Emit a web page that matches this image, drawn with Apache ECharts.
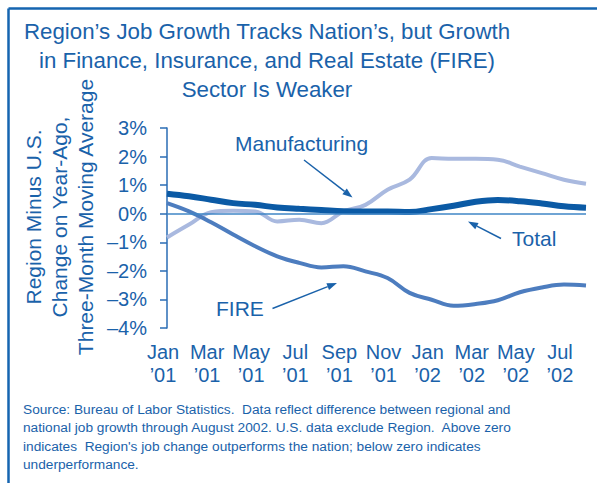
<!DOCTYPE html>
<html>
<head>
<meta charset="utf-8">
<script src="https://cdn.jsdelivr.net/npm/echarts@6/dist/echarts.min.js"></script>
<style>
html,body{margin:0;padding:0;background:#fff;}
#chart{width:597px;height:483px;}
</style>
</head>
<body>
<div id="chart"></div>
<script>
// ---- data ----
const months = ['Jan ’01','Feb ’01','Mar ’01','Apr ’01','May ’01','Jun ’01','Jul ’01','Aug ’01','Sep ’01','Oct ’01','Nov ’01','Dec ’01',
                'Jan ’02','Feb ’02','Mar ’02','Apr ’02','May ’02','Jun ’02','Jul ’02','Aug ’02'];
const totalVals = [0.70,0.61,0.49,0.37,0.31,0.22,0.17,0.13,0.09,0.08,0.08,0.06,0.16,0.28,0.42,0.48,0.44,0.36,0.26,0.21];
const fireVals = [0.37,0.08,-0.30,-0.73,-1.14,-1.49,-1.72,-1.88,-1.84,-2.02,-2.25,-2.77,-3.01,-3.22,-3.16,-3.03,-2.75,-2.58,-2.48,-2.51];
const mfgVals = [-0.83,-0.38,0.05,0.10,0.08,-0.27,-0.21,-0.33,0.08,0.31,0.84,1.19,1.95,1.92,1.92,1.89,1.65,1.42,1.19,1.05];
const yTickLabels = ['–4%','–3%','–2%','–1%','0%','1%','2%','3%'];
const titleLines = ['Region’s Job Growth Tracks Nation’s, but Growth','in Finance, Insurance, and Real Estate (FIRE)','Sector Is Weaker'];
const yNameLines = ['Region Minus U.S.','Change on Year-Ago,','Three-Month Moving Average'];
const sourceLines = ['Source: Bureau of Labor Statistics.  Data reflect difference between regional and',
  'national job growth through August 2002. U.S. data exclude Region.  Above zero',
  'indicates  Region\'s job change outperforms the nation; below zero indicates',
  'underperformance.'];

// ---- styles ----
const FONT = '"Liberation Sans", Arial, Helvetica, sans-serif';
const TXT = '#1a62aa';
const C_TOTAL = '#0b5aa5';
const C_FIRE = '#4d7dbf';
const C_MFG = '#a9b9df';

function arrow(x1, y1, x2, y2) {
  const ang = Math.atan2(y2 - y1, x2 - x1);
  const L = 10, W = 3.6;
  const bx = x2 - L * Math.cos(ang), by = y2 - L * Math.sin(ang);
  const px = -Math.sin(ang) * W, py = Math.cos(ang) * W;
  return [
    {type:'line', shape:{x1:x1, y1:y1, x2:bx, y2:by}, style:{stroke:TXT, lineWidth:1.5}},
    {type:'polygon', shape:{points:[[x2,y2],[bx+px,by+py],[bx-px,by-py]]}, style:{fill:TXT}}
  ];
}

const chart = echarts.init(document.getElementById('chart'), null, {renderer:'svg'});
const graphics = [
  {type:'line', shape:{x1:8.5, y1:8.5, x2:597, y2:8.5}, style:{stroke:'#1565b0', lineWidth:2.5}},
  {type:'line', shape:{x1:8.5, y1:8.5, x2:8.5, y2:483}, style:{stroke:'#1565b0', lineWidth:2.5}},
  {type:'text', x:267, y:17, style:{text:titleLines.join('\n'), font:'22.3px ' + FONT, fill:TXT, align:'center', verticalAlign:'top', lineHeight:29}},
  {type:'text', x:59, y:217, rotation:Math.PI/2, style:{text:yNameLines.join('\n'), font:'21px ' + FONT, fill:TXT, align:'center', verticalAlign:'middle', lineHeight:26}},
  {type:'text', x:23, y:400, style:{text:sourceLines.join('\n'), font:'13.7px ' + FONT, fill:TXT, align:'left', verticalAlign:'top', lineHeight:18.5}},
  {type:'text', x:235, y:143, style:{text:'Manufacturing', font:'21px ' + FONT, fill:TXT, align:'left', verticalAlign:'middle'}},
  {type:'text', x:512, y:238, style:{text:'Total', font:'21px ' + FONT, fill:TXT, align:'left', verticalAlign:'middle'}},
  {type:'text', x:216, y:308, style:{text:'FIRE', font:'21px ' + FONT, fill:TXT, align:'left', verticalAlign:'middle'}}
].concat(arrow(304,160,352.5,197.5), arrow(501,238.5,468,221.5), arrow(272.5,308.5,337,283));

chart.setOption({
  animation:false,
  textStyle:{fontFamily:FONT},
  grid:{left:167, right:11, top:128, bottom:155, containLabel:false},
  xAxis:{
    type:'category', data:months, boundaryGap:false,
    axisLine:{show:false}, axisTick:{show:false}, splitLine:{show:false},
    axisLabel:{interval:1, formatter:v => v.replace(' ', '\n'), fontSize:20, lineHeight:23, color:TXT, margin:12, fontFamily:FONT, padding:[0,8,0,0]}
  },
  yAxis:{
    type:'value', min:-4, max:3, interval:1,
    axisLine:{show:true, lineStyle:{color:'#2a6db5', width:1.5}},
    axisTick:{show:true, inside:false, length:7, lineStyle:{color:'#2a6db5', width:1.5}},
    splitLine:{show:false},
    axisLabel:{formatter:v => yTickLabels[Math.round(v) + 4], fontSize:20, color:TXT, margin:20, fontFamily:FONT}
  },
  series:[
    {name:'Manufacturing', type:'line', data:mfgVals, smooth:0.4, symbol:'none', lineStyle:{color:C_MFG, width:4}},
    {name:'FIRE', type:'line', data:fireVals, smooth:0.4, symbol:'none', lineStyle:{color:C_FIRE, width:4},
      markLine:{silent:true, symbol:'none', label:{show:false}, lineStyle:{color:'#3f86c6', width:1.5, type:'solid'}, data:[{yAxis:0}]}},
    {name:'Total', type:'line', data:totalVals, smooth:0.4, symbol:'none', lineStyle:{color:C_TOTAL, width:6}}
  ],
  graphic:graphics
});
</script>
</body>
</html>
